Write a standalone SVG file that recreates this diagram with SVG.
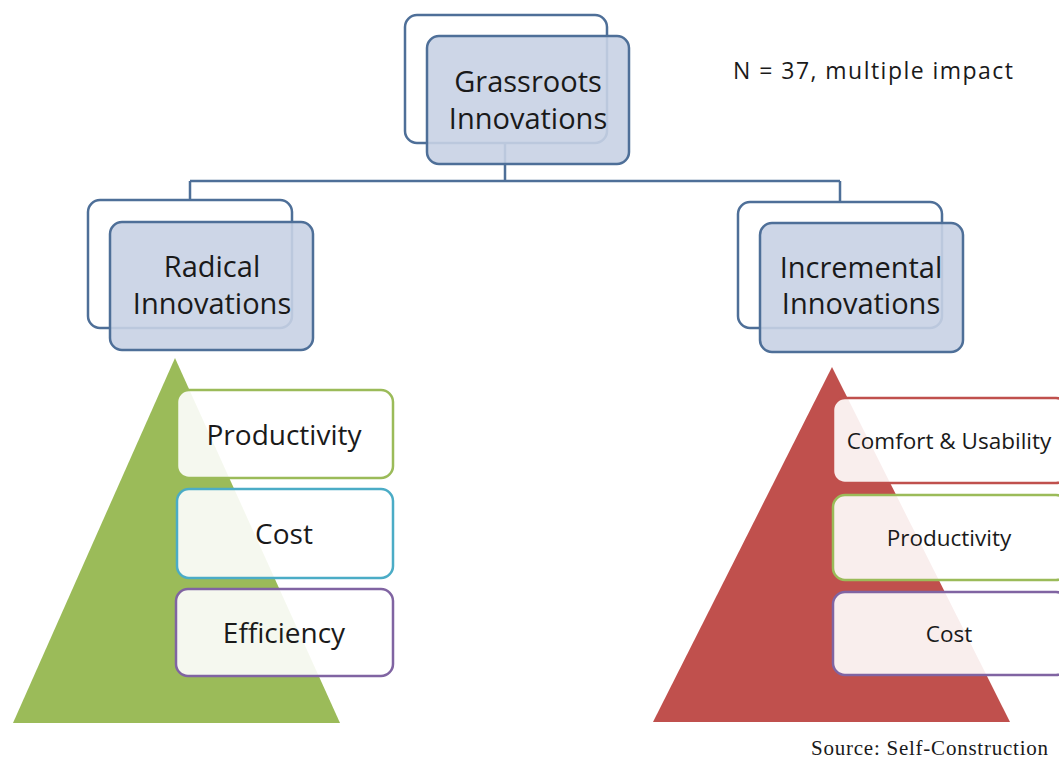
<svg xmlns="http://www.w3.org/2000/svg" width="1059" height="758" viewBox="0 0 1059 758">
<style>
.back{fill:#ffffff;stroke:#4e6f98;stroke-width:2.5}
.front{fill:#c8d2e4;fill-opacity:0.9;stroke:#4e6f98;stroke-width:2.5}
.conn{fill:none;stroke:#4e6f98;stroke-width:2.5}
.t{font-family:"Open Sans","Liberation Sans",sans-serif;fill:#1a1a1a;text-anchor:middle}
.big{font-size:29px}
.mid{font-size:28px}
.sm{font-size:22.5px}
.item{fill:#ffffff;fill-opacity:0.9;stroke-width:2.5}
</style>
<rect width="1059" height="758" fill="#ffffff"/>
<g id="connectors">
<path class="conn" d="M505 143 V181 M190 181 H840 M190 181 V200 M840 181 V202"/>
</g>
<g id="grassroots">
<rect class="back" x="405" y="15" width="202" height="128" rx="12"/>
<rect class="front" x="427" y="36" width="202" height="128" rx="12"/>
<text class="t big" x="528" y="92">Grassroots</text>
<text class="t big" x="528" y="129">Innovations</text>
</g>
<g id="radical">
<rect class="back" x="88" y="200" width="204" height="128" rx="12"/>
<rect class="front" x="110" y="222" width="203" height="128" rx="12"/>
<text class="t big" x="212" y="277">Radical</text>
<text class="t big" x="212" y="314">Innovations</text>
</g>
<g id="incremental">
<rect class="back" x="738" y="202" width="204" height="126" rx="12"/>
<rect class="front" x="760" y="223" width="203" height="129" rx="12"/>
<text class="t big" x="861" y="278">Incremental</text>
<text class="t big" x="861" y="314">Innovations</text>
</g>
<g id="note">
<text class="t" style="font-size:23px;text-anchor:start" x="733" y="79" textLength="280" lengthAdjust="spacing">N = 37, multiple impact</text>
</g>
<g id="radical-pyramid">
<polygon points="175,358 13,723 340,723" fill="#9bbb59"/>
<g id="r-productivity">
<rect class="item" x="177" y="390" width="216" height="88" rx="12" stroke="#9bbb59"/>
<text class="t mid" x="284" y="445">Productivity</text>
</g>
<g id="r-cost">
<rect class="item" x="177" y="489" width="216" height="89" rx="12" stroke="#4bacc6"/>
<text class="t mid" x="284" y="544">Cost</text>
</g>
<g id="r-efficiency">
<rect class="item" x="176" y="589" width="217" height="87" rx="12" stroke="#8064a2"/>
<text class="t mid" x="284" y="643">Efficiency</text>
</g>
</g>
<g id="incremental-pyramid">
<polygon points="832,367 653,722 1010,722" fill="#c0504d"/>
<g id="i-comfort">
<rect class="item" x="833" y="398" width="235" height="85" rx="12" stroke="#c0504d"/>
<text class="t sm" x="949" y="449">Comfort &amp; Usability</text>
</g>
<g id="i-productivity">
<rect class="item" x="833" y="495" width="235" height="85" rx="12" stroke="#9bbb59"/>
<text class="t sm" x="949" y="546">Productivity</text>
</g>
<g id="i-cost">
<rect class="item" x="833" y="592" width="235" height="83" rx="12" stroke="#8064a2"/>
<text class="t sm" x="949" y="642">Cost</text>
</g>
</g>
<g id="source">
<text x="811" y="755" textLength="237" lengthAdjust="spacing" style="font-family:'Liberation Serif',serif;font-size:21px;fill:#1a1a1a">Source: Self-Construction</text>
</g>
</svg>
